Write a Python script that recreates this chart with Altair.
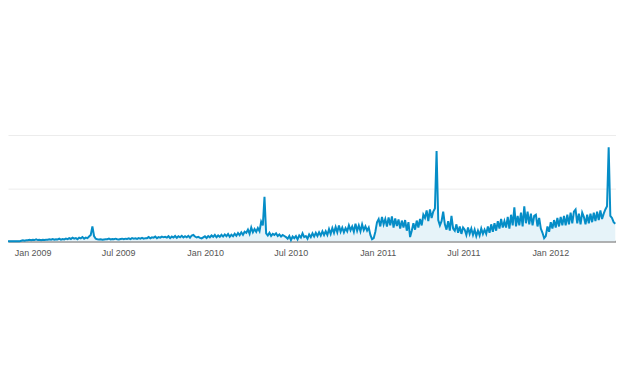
import altair as alt
import pandas as pd

start_date = "2008-11-10"
step_hours = 84

visits_2008_09 = [
    0, 0, 0, 0, 0, 0, 0, 0, 5, 10, 5, 10,
    10, 15, 10, 15, 12, 18, 12, 15, 10, 15, 12, 15,
    15, 20, 15, 22, 15, 20, 18, 25, 15, 22, 18, 25,
    20, 30, 22, 35, 25, 30, 20, 35, 28, 40, 25, 35,
    30, 45, 60, 140, 50, 25, 20, 18, 20, 15, 18, 20,
    20, 25, 18, 22, 20, 25, 20, 18, 22, 25, 20, 25,
    22, 28, 20, 30, 25, 28, 22, 30, 25, 32, 25, 30,
    30, 40, 28, 38, 35, 45, 30, 40, 35, 45, 38, 42,
]
visits_2009_10 = [
    35, 48, 30, 45, 36, 50, 33, 48, 38, 52, 36, 48,
    38, 52, 35, 55, 60, 45, 36, 42, 33, 28, 38, 48,
    32, 50, 38, 55, 42, 60, 38, 55, 42, 62, 45, 65,
    48, 68, 42, 62, 48, 72, 52, 78, 58, 85, 62, 90,
    80, 110, 70, 130, 85, 115, 90, 125, 95, 185, 150, 420,
    75, 55, 80, 50, 70, 60, 75, 50, 65, 45, 60, 50,
    40, 25, 50, 12, 45, 30, 50, 18, 55, 35, 75, 40,
    50, 25, 65, 40, 75, 45, 80, 50, 85, 55, 95, 60,
]
visits_2010_11 = [
    95, 60, 115, 70, 125, 80, 135, 85, 150, 90, 130, 85,
    125, 95, 150, 105, 140, 90, 165, 100, 150, 95, 160, 105,
    140, 100, 130, 60, 20, 30, 90, 180, 210, 140, 230, 160,
    210, 140, 225, 150, 235, 130, 215, 145, 205, 120, 195, 130,
    200, 100, 180, 40, 100, 170, 110, 195, 130, 210, 150, 250,
    220, 290, 190, 300, 220, 280, 310, 850, 200, 150, 190, 280,
    160, 110, 190, 100, 240, 120, 100, 160, 80, 140, 70, 130,
    110, 60, 130, 70, 120, 60, 110, 50, 100, 55, 120, 70,
]
visits_2011_12 = [
    110, 70, 140, 80, 160, 90, 170, 100, 190, 120, 210, 130,
    190, 130, 230, 120, 250, 150, 320, 140, 240, 150, 270, 140,
    330, 170, 280, 160, 260, 150, 240, 250, 140, 220, 120, 80,
    30, 50, 140, 90, 180, 120, 200, 130, 220, 140, 230, 150,
    240, 150, 250, 160, 270, 170, 280, 300, 170, 260, 160, 270,
    230, 160, 250, 170, 260, 180, 270, 190, 280, 200, 290, 210,
    260, 300, 330, 885, 240, 220, 180, 165,
]

visits = visits_2008_09 + visits_2009_10 + visits_2010_11 + visits_2011_12
t0 = pd.Timestamp(start_date)
dates = [(t0 + pd.Timedelta(hours=step_hours * i)).strftime("%Y-%m-%dT%H:%M:%SZ")
         for i in range(len(visits))]

df = pd.DataFrame({"date": dates, "visits": visits})

tick_dates = [alt.DateTime(year=y, month=m, date=1, utc=True)
              for (y, m) in [(2009, 1), (2009, 7), (2010, 1), (2010, 7),
                             (2011, 1), (2011, 7), (2012, 1)]]

x_enc = alt.X(
    "date:T",
    scale=alt.Scale(type="utc",
                    domain=[alt.DateTime(year=2008, month=11, date=10, utc=True),
                            alt.DateTime(year=2012, month=5, date=19, utc=True)]),
    axis=alt.Axis(values=tick_dates, format="%b %Y", title=None, grid=False,
                  ticks=False, domainColor="#9a9a9a", domainWidth=2,
                  labelColor="#555555", labelFont="Liberation Sans",
                  labelFontSize=9, labelPadding=7),
)
y_enc = alt.Y(
    "visits:Q",
    scale=alt.Scale(domain=[0, 1000], nice=False),
    axis=alt.Axis(values=[0, 500, 1000], labels=False, ticks=False, domain=False,
                  title=None, grid=True, gridColor="#ececec", gridWidth=1),
)

base = alt.Chart(df).encode(x=x_enc, y=y_enc)
area = base.mark_area(color="#e6f3f9", opacity=1, interpolate="linear")
line = base.mark_line(color="#058dc7", strokeWidth=2, interpolate="linear")

chart = (area + line).properties(
    width=612,
    height=107,
    padding={"left": 0, "top": 127, "right": 0, "bottom": 30},
    autosize=alt.AutoSizeParams(type="none"),
    background="white",
).configure_view(strokeWidth=0, stroke="transparent")

chart.save("out.html", embed_options={"renderer": "svg", "actions": False})
